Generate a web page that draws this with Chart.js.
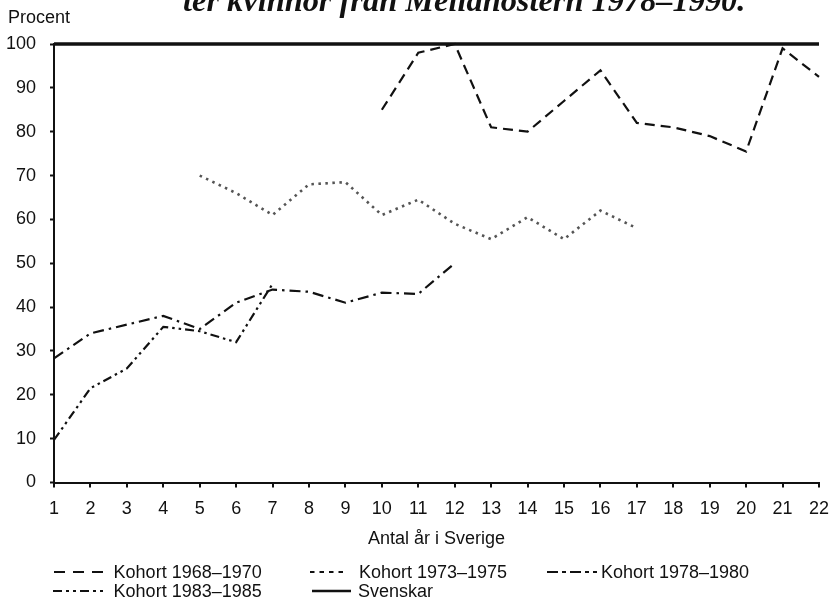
<!DOCTYPE html>
<html lang="sv">
<head>
<meta charset="utf-8">
<script src="https://cdn.jsdelivr.net/npm/chart.js@4.4.1/dist/chart.umd.min.js"></script>
<style>
    body { margin: 0; background: #fff; overflow: hidden; }
    #wrap { position: relative; width: 840px; height: 601px; overflow: hidden;
            font-family: "Liberation Sans", Arial, sans-serif; color: #111; }
    #chart { position: absolute; left: 0; top: 0; }
    #titel { position: absolute; left: 183px; top: -16.5px; white-space: nowrap;
             font: italic bold 32.4px/32.4px "Liberation Serif", serif; color: #111; }
    #procent { position: absolute; left: 8px; top: 7.5px; font-size: 18px; line-height: 18px; }
    .leg-text { position: absolute; font-size: 18px; line-height: 18px; white-space: nowrap; }
    .leg-line { position: absolute; }
</style>
</head>
<body>
<div id="wrap">
    <canvas id="chart" width="840" height="601"></canvas>
    <div id="titel">ter kvinnor från Mellanöstern 1978–1990.</div>
    <div id="procent">Procent</div>
    <div id="legend"></div>
</div>
<script>
// Antal år i Sverige (x axis)
const antalAr = ['1', '2', '3', '4', '5', '6', '7', '8', '9', '10', '11',
                 '12', '13', '14', '15', '16', '17', '18', '19', '20', '21', '22'];

// Andel i procent per kohort (null = no observation)
const kohort1968 = [null, null, null, null, null, null, null, null, null,
                    85, 98, 100, 81, 80, 87, 94, 82, 81, 79, 75.5, 99, 92.5];
const kohort1973 = [null, null, null, null,
                    70, 66, 61, 68, 68.5, 61, 64.5, 59, 55.5, 60.5, 55.5, 62, 58,
                    null, null, null, null, null];
const kohort1978 = [28.3, 34, 36, 38, 35, 41, 44, 43.5, 41, 43.3, 43, 50,
                    null, null, null, null, null, null, null, null, null, null];
const kohort1983 = [9.7, 21.5, 26, 35.5, 34.5, 32, 45.3,
                    null, null, null, null, null, null, null, null, null, null, null, null, null, null, null];
const svenskar = [100, 100, 100, 100, 100, 100, 100, 100, 100, 100, 100,
                  100, 100, 100, 100, 100, 100, 100, 100, 100, 100, 100];

const ink = '#111';

// Series styles
const series = [
    { label: 'Kohort 1968–1970', data: kohort1968, color: ink, width: 2.2, dash: [10, 6] },
    { label: 'Kohort 1973–1975', data: kohort1973, color: '#555', width: 2.6, dash: [2.5, 4.5] },
    { label: 'Kohort 1978–1980', data: kohort1978, color: ink, width: 2.2, dash: [11, 5, 2.5, 5] },
    { label: 'Kohort 1983–1985', data: kohort1983, color: ink, width: 2.2, dash: [9, 4, 2.5, 4, 2.5, 4] },
    { label: 'Svenskar', data: svenskar, color: ink, width: 3.5, dash: [] }
];

Chart.defaults.font.family = '"Liberation Sans", Arial, sans-serif';
Chart.defaults.font.size = 18;
Chart.defaults.color = ink;

new Chart(document.getElementById('chart'), {
    type: 'line',
    data: {
        labels: antalAr,
        datasets: series.map(s => ({
            label: s.label,
            data: s.data,
            borderColor: s.color,
            borderWidth: s.width,
            borderDash: s.dash,
            pointRadius: 0,
            fill: false,
            tension: 0,
            spanGaps: false,
            clip: false
        }))
    },
    options: {
        responsive: false,
        animation: false,
        devicePixelRatio: 1,
        layout: { padding: { top: 44, right: 14, bottom: 0, left: 0 } },
        plugins: {
            legend: { display: false },
            tooltip: { enabled: false }
        },
        scales: {
            x: {
                type: 'category',
                offset: false,
                grid: { drawOnChartArea: false, tickLength: 5, color: ink, lineWidth: 2 },
                border: { color: ink, width: 2 },
                ticks: { padding: 11, maxRotation: 0, autoSkip: false, font: { size: 18 } },
                title: {
                    display: true,
                    text: 'Antal år i Sverige',
                    font: { size: 18 },
                    padding: { top: 0, bottom: 51 }
                },
                afterFit(scale) { scale.height = 118.5; }
            },
            y: {
                min: 0,
                max: 100,
                grid: {
                    drawOnChartArea: false,
                    tickLength: 4,
                    color: ink,
                    tickWidth: ctx => (ctx.tick && ctx.tick.value % 10 === 0) ? 2 : 1.5
                },
                border: { color: ink, width: 2 },
                ticks: {
                    stepSize: 5,
                    padding: 14,
                    font: { size: 18 },
                    callback: v => (v % 10 === 0 ? v : '')
                },
                afterFit(scale) { scale.width = 54; }
            }
        }
    }
});

// Legend below the chart, laid out like the printed figure
const legendLayout = [
    { row: 0, x0: 54, x1: 105, tx: 113.6, dash: '11 8', w: 2 },
    { row: 0, x0: 310, x1: 343, tx: 359, dash: '4.5 5', w: 2 },
    { row: 0, x0: 547, x1: 597, tx: 601, dash: '11 4 4 4', w: 2 },
    { row: 1, x0: 53, x1: 105, tx: 113.6, dash: '9 4 3 4 3 4', w: 2 },
    { row: 1, x0: 312, x1: 351, tx: 358, dash: '', w: 2.5 }
];
const rowMid = [571.5, 590.5];
const legendEl = document.getElementById('legend');
legendLayout.forEach((item, i) => {
    const mid = rowMid[item.row];
    const len = item.x1 - item.x0;
    const svg = document.createElementNS('http://www.w3.org/2000/svg', 'svg');
    svg.setAttribute('class', 'leg-line');
    svg.setAttribute('width', len);
    svg.setAttribute('height', 6);
    svg.style.left = item.x0 + 'px';
    svg.style.top = (mid - 3) + 'px';
    svg.innerHTML = `<line x1="0" y1="3" x2="${len}" y2="3" stroke="${ink}" stroke-width="${item.w}"` +
        (item.dash ? ` stroke-dasharray="${item.dash}"` : '') + '/>';
    legendEl.appendChild(svg);

    const txt = document.createElement('div');
    txt.className = 'leg-text';
    txt.textContent = series[i].label;
    txt.style.left = item.tx + 'px';
    txt.style.top = (mid - 8.7) + 'px';
    legendEl.appendChild(txt);
});
</script>
</body>
</html>
